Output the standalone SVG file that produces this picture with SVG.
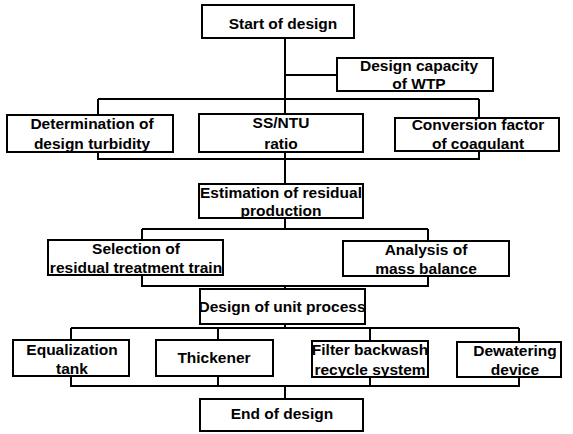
<svg xmlns="http://www.w3.org/2000/svg" width="573" height="434" viewBox="0 0 573 434">
<style>
.box{fill:#fff;stroke:#000;stroke-width:2}
.t{font-family:"Liberation Sans",Arial,sans-serif;font-weight:bold;font-size:15.5px;fill:#000;text-anchor:middle}
.c{fill:none;stroke:#000;stroke-width:2}
</style>
<rect width="573" height="434" fill="#fff"/>
<g id="connectors">
<path class="c" d="M285 38V114M285 75H337M98 99H479M98 99V115M479 99V118"/>
<path class="c" d="M98 152V159H479V151M285 152V184"/>
<path class="c" d="M285 218V229M142 229H428M142 229V240M428 229V241"/>
<path class="c" d="M142 275V286H428V276M285 286V289"/>
<path class="c" d="M285 324V328M71 328H519M71 328V340M218 328V340M370 328V341M519 328V342"/>
<path class="c" d="M71 376V386H519V377M218 376V386M370 377V386M285 386V399"/>
</g>
<g id="start"><rect class="box" x="202" y="5" width="152" height="33"/><text class="t" x="283" y="29">Start of design</text></g>
<g id="capacity"><rect class="box" x="337" y="58" width="156" height="33"/><text class="t" x="419" y="71">Design capacity</text><text class="t" x="419" y="89">of WTP</text></g>
<g id="turbidity"><rect class="box" x="7" y="115" width="166" height="37"/><text class="t" x="92" y="129">Determination of</text><text class="t" x="92" y="149">design turbidity</text></g>
<g id="ssntu"><rect class="box" x="199" y="114" width="164" height="38"/><text class="t" x="281" y="128">SS/NTU</text><text class="t" x="281" y="149">ratio</text></g>
<g id="conversion"><rect class="box" x="395" y="118" width="164" height="33"/><text class="t" x="478" y="130">Conversion factor</text><text class="t" x="478" y="149">of coagulant</text></g>
<g id="estimation"><rect class="box" x="199" y="184" width="164" height="34"/><text class="t" x="281" y="198">Estimation of residual</text><text class="t" x="281" y="216">production</text></g>
<g id="selection"><rect class="box" x="48" y="240" width="175" height="35"/><text class="t" x="136" y="254">Selection of</text><text class="t" x="136" y="273">residual treatment train</text></g>
<g id="analysis"><rect class="box" x="343" y="241" width="166" height="35"/><text class="t" x="426" y="255">Analysis of</text><text class="t" x="426" y="274">mass balance</text></g>
<g id="unit"><rect class="box" x="200" y="289" width="165" height="35"/><text class="t" x="282" y="312">Design of unit process</text></g>
<g id="equalization"><rect class="box" x="13" y="340" width="116" height="36"/><text class="t" x="72" y="355">Equalization</text><text class="t" x="72" y="374">tank</text></g>
<g id="thickener"><rect class="box" x="156" y="340" width="117" height="36"/><text class="t" x="214" y="363">Thickener</text></g>
<g id="filter"><rect class="box" x="312" y="341" width="116" height="36"/><text class="t" x="370" y="355">Filter backwash</text><text class="t" x="370" y="375">recycle system</text></g>
<g id="dewatering"><rect class="box" x="457" y="342" width="104" height="35"/><text class="t" x="515" y="356">Dewatering</text><text class="t" x="515" y="375">device</text></g>
<g id="end"><rect class="box" x="200" y="399" width="163" height="32"/><text class="t" x="282" y="419">End of design</text></g>
</svg>
